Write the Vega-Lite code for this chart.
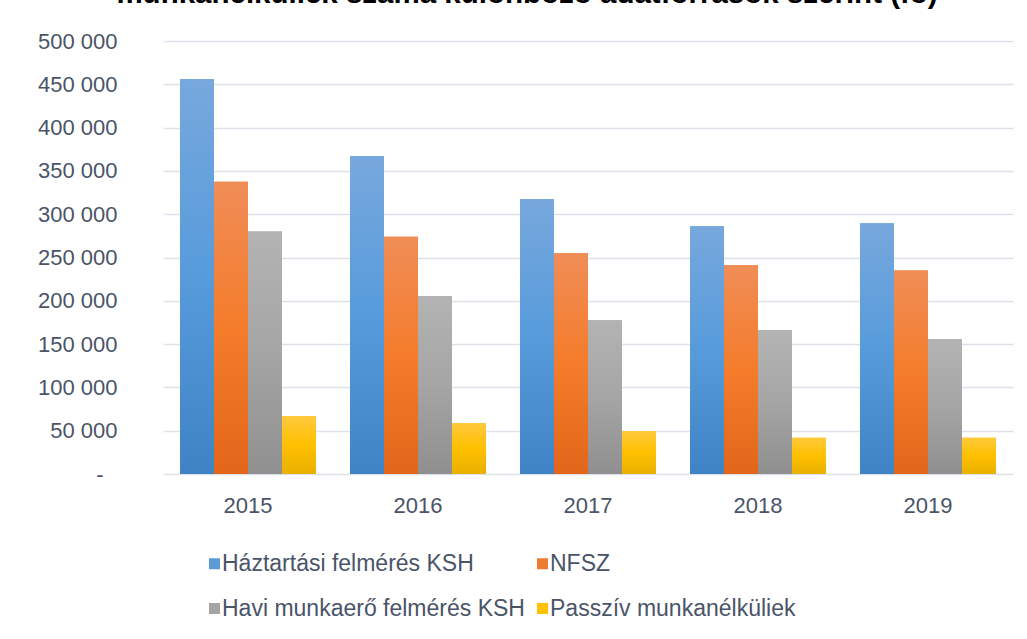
{
  "$schema": "https://vega.github.io/schema/vega-lite/v6.json",
  "width": 850,
  "height": 433,
  "autosize": {"type": "none"},
  "padding": {"left": 163, "top": 41, "right": 14, "bottom": 165},
  "background": "#ffffff",
  "title": {
    "text": "munkanélküliek száma különböző adatforrások szerint (fő)",
    "anchor": "middle",
    "frame": "group",
    "orient": "top",
    "baseline": "alphabetic",
    "offset": 23,
    "dy": 25,
    "dx": -61,
    "font": "Liberation Sans",
    "fontSize": 29.5,
    "fontWeight": "bold",
    "color": "#000000"
  },
  "data": {
    "values": [
      {"year": "2015", "series": "Háztartási felmérés KSH", "value": 456000},
      {"year": "2015", "series": "NFSZ", "value": 337500},
      {"year": "2015", "series": "Havi munkaerő felmérés KSH", "value": 280000},
      {"year": "2015", "series": "Passzív munkanélküliek", "value": 67000},
      {"year": "2016", "series": "Háztartási felmérés KSH", "value": 367000},
      {"year": "2016", "series": "NFSZ", "value": 274000},
      {"year": "2016", "series": "Havi munkaerő felmérés KSH", "value": 205500},
      {"year": "2016", "series": "Passzív munkanélküliek", "value": 59000},
      {"year": "2017", "series": "Háztartási felmérés KSH", "value": 317500},
      {"year": "2017", "series": "NFSZ", "value": 255000},
      {"year": "2017", "series": "Havi munkaerő felmérés KSH", "value": 177500},
      {"year": "2017", "series": "Passzív munkanélküliek", "value": 49600},
      {"year": "2018", "series": "Háztartási felmérés KSH", "value": 286000},
      {"year": "2018", "series": "NFSZ", "value": 241000},
      {"year": "2018", "series": "Havi munkaerő felmérés KSH", "value": 166000},
      {"year": "2018", "series": "Passzív munkanélküliek", "value": 42000},
      {"year": "2019", "series": "Háztartási felmérés KSH", "value": 289500},
      {"year": "2019", "series": "NFSZ", "value": 235000},
      {"year": "2019", "series": "Havi munkaerő felmérés KSH", "value": 155500},
      {"year": "2019", "series": "Passzív munkanélküliek", "value": 42000}
    ]
  },
  "encoding": {
    "x": {
      "field": "year",
      "type": "nominal",
      "scale": {"paddingInner": 0.2, "paddingOuter": 0.1},
      "axis": {
        "title": null,
        "domain": false,
        "ticks": false,
        "labelAngle": 0,
        "labelPadding": 21,
        "labelFont": "Liberation Sans",
        "labelFontSize": 22,
        "labelColor": "#4a5468"
      }
    },
    "xOffset": {
      "field": "series",
      "type": "nominal",
      "scale": {"domain": ["Háztartási felmérés KSH", "NFSZ", "Havi munkaerő felmérés KSH", "Passzív munkanélküliek"], "paddingInner": 0, "paddingOuter": 0}
    },
    "y": {
      "field": "value",
      "type": "quantitative",
      "scale": {"domain": [0, 500000], "nice": false, "zero": true},
      "axis": {
        "title": null,
        "domain": false,
        "ticks": false,
        "values": [0, 50000, 100000, 150000, 200000, 250000, 300000, 350000, 400000, 450000, 500000],
        "labelExpr": "datum.value == 0 ? '-' : replace(format(datum.value, ','), ',', ' ')",
        "labelPadding": {"condition": {"test": "datum.value == 0", "value": 60}, "value": 46},
        "labelFont": "Liberation Sans",
        "labelFontSize": 22,
        "labelColor": "#4a5468",
        "grid": true,
        "gridColor": "#dde1e9",
        "gridWidth": 1.6
      }
    }
  },
  "layer": [
    {
      "mark": {"type": "bar"},
      "encoding": {
        "color": {
          "field": "series",
          "type": "nominal",
          "scale": {
            "domain": ["Háztartási felmérés KSH", "NFSZ", "Havi munkaerő felmérés KSH", "Passzív munkanélküliek"],
            "range": ["#5b9bd5", "#ed7d31", "#a5a5a5", "#ffc000"]
          },
          "legend": {
            "title": null,
            "orient": "none",
            "legendX": 40,
            "legendY": 511,
            "direction": "horizontal",
            "columns": 2,
            "padding": 0,
            "symbolType": "square",
            "symbolSize": 121,
            "symbolStrokeWidth": 0,
            "labelFont": "Liberation Sans",
            "labelFontSize": 23,
            "labelColor": "#4a5468",
            "labelOffset": -4,
            "columnPadding": 6,
            "rowPadding": 21,
            "labelLimit": 400
          }
        }
      }
    },
    {
      "transform": [{"filter": "datum.series == 'Háztartási felmérés KSH'"}],
      "mark": {
        "type": "bar",
        "fill": {"gradient": "linear", "x1": 0, "y1": 0, "x2": 0, "y2": 1,
          "stops": [{"offset": 0, "color": "#77a8dd"}, {"offset": 0.5, "color": "#579bdb"}, {"offset": 1, "color": "#4083c4"}]}
      }
    },
    {
      "transform": [{"filter": "datum.series == 'NFSZ'"}],
      "mark": {
        "type": "bar",
        "fill": {"gradient": "linear", "x1": 0, "y1": 0, "x2": 0, "y2": 1,
          "stops": [{"offset": 0, "color": "#f08d57"}, {"offset": 0.5, "color": "#f47c2b"}, {"offset": 1, "color": "#e2661a"}]}
      }
    },
    {
      "transform": [{"filter": "datum.series == 'Havi munkaerő felmérés KSH'"}],
      "mark": {
        "type": "bar",
        "fill": {"gradient": "linear", "x1": 0, "y1": 0, "x2": 0, "y2": 1,
          "stops": [{"offset": 0, "color": "#b3b3b3"}, {"offset": 0.5, "color": "#a5a5a5"}, {"offset": 1, "color": "#8f8f8f"}]}
      }
    },
    {
      "transform": [{"filter": "datum.series == 'Passzív munkanélküliek'"}],
      "mark": {
        "type": "bar",
        "fill": {"gradient": "linear", "x1": 0, "y1": 0, "x2": 0, "y2": 1,
          "stops": [{"offset": 0, "color": "#ffc93d"}, {"offset": 0.5, "color": "#ffc000"}, {"offset": 1, "color": "#e8b000"}]}
      }
    }
  ],
  "config": {
    "view": {"stroke": null},
    "bar": {"stroke": null}
  }
}
